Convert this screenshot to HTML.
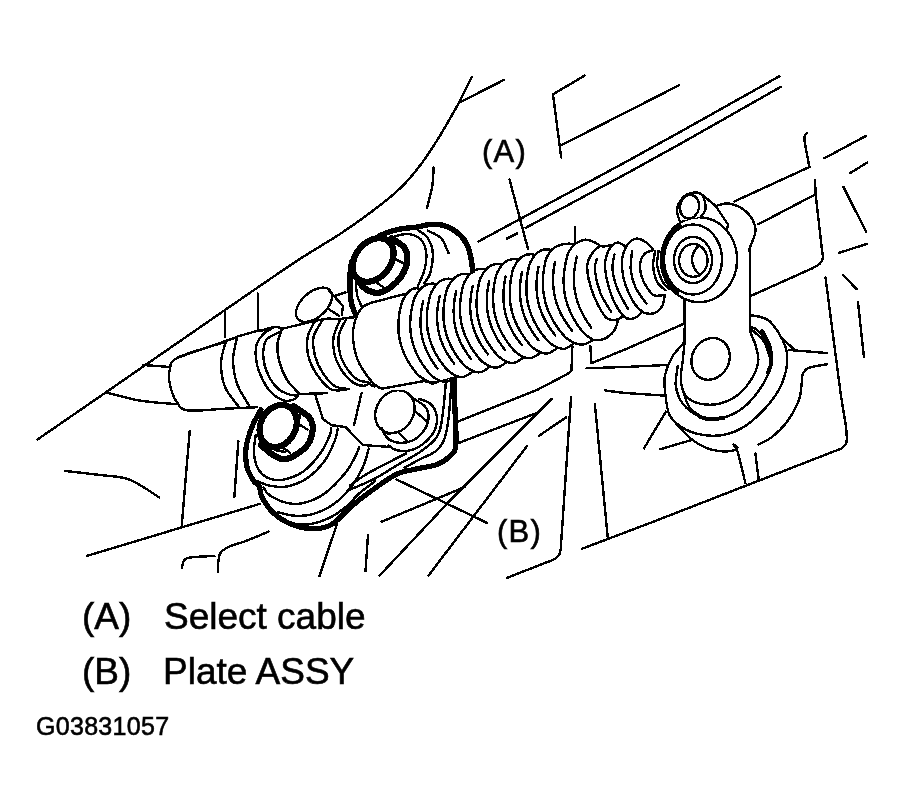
<!DOCTYPE html>
<html><head><meta charset="utf-8"><title>G03831057</title>
<style>
html,body{margin:0;padding:0;background:#fff;}
body{width:905px;height:811px;position:relative;overflow:hidden;font-family:"Liberation Sans",Arial,sans-serif;color:#000;}
.t{position:absolute;white-space:nowrap;line-height:1;-webkit-text-stroke:0.6px #000;will-change:transform;}
</style></head><body>
<svg width="905" height="811" viewBox="0 0 905 811" style="position:absolute;left:0;top:0" stroke="#000" stroke-linecap="round" stroke-linejoin="round" shape-rendering="crispEdges">
<path d="M37.3 439.6 C48.8 431.7 74.7 413.9 106 392.3 C137.3 370.7 193.3 331.8 225 310 C256.7 288.2 276.8 274.2 296 261.5 C315.2 248.8 326.8 242.8 340 234 C353.2 225.2 365 216.8 375.2 209 C385.4 201.2 393.3 195 401.1 187.4 C408.9 179.8 415.5 171.5 421.8 163.2 C428.1 154.8 434.1 145.1 439 137.3 C443.9 129.5 447.8 122.3 451.1 116.6 C454.4 110.8 455.4 109.4 458.9 102.8 C462.3 96.2 469.6 81.2 471.8 76.9" stroke-width="2.4" fill="none"/>
<path d="M458.9 102.8 L503.8 80" stroke-width="2.4" fill="none"/>
<path d="M433.6 167.4 C433.4 170.4 433.4 178.8 432.3 185.6 C431.2 192.4 427.8 204.3 426.9 208" stroke-width="2.4" fill="none"/>
<path d="M143 365 L170.4 367" stroke-width="2.4" fill="none"/>
<path d="M105.7 392.3 C111.3 393.7 127.5 398.5 139.3 400.5 C151.1 402.5 170.4 403.6 176.6 404.2" stroke-width="2.4" fill="none"/>
<path d="M224.9 311 L224.9 337" stroke-width="2.4" fill="none"/>
<path d="M257.7 293.5 L257.7 328.4" stroke-width="2.4" fill="none"/>
<path d="M65.5 471 C71.2 471.7 89.3 473.6 100 475 C110.7 476.4 119.6 475.9 129.5 479.6 C139.4 483.4 154.3 494.5 159.3 497.5" stroke-width="2.4" fill="none"/>
<path d="M189.7 431 L181.7 526.4" stroke-width="2.4" fill="none"/>
<path d="M238.4 441 L234.4 497" stroke-width="2.4" fill="none"/>
<path d="M86.7 556 L260 503.8" stroke-width="2.4" fill="none"/>
<path d="M181.7 568 C182.3 566.5 182.5 560.9 185.4 559 C188.3 557.1 194.2 557.2 199 556.7 C203.8 556.2 211.9 556.3 214.5 556.2" stroke-width="2.4" fill="none"/>
<path d="M217.8 571.6 C218.1 568.7 217.9 558.3 219.8 554.2 C221.7 550.1 224.8 548.9 229 546.8 C233.2 544.6 238.4 543.8 245 541.3 C251.6 538.8 264.6 533.3 268.5 531.7" stroke-width="2.4" fill="none"/>
<path d="M337 524 L319.5 576" stroke-width="2.4" fill="none"/>
<path d="M368 535 L365.5 571" stroke-width="2.4" fill="none"/>
<path d="M381.7 521.7 L464.8 487" stroke-width="2.4" fill="none"/>
<path d="M396.6 479.5 L487.2 523" stroke-width="2.4" fill="none"/>
<path d="M456 422.3 L537 390 L566.7 374.4" stroke-width="2.4" fill="none"/>
<path d="M566.7 374.4 C567.4 373.8 570.2 372.2 571 371 C571.8 369.8 571.4 371.2 571.6 367 C571.8 362.8 572.3 349.3 572.4 345.8" stroke-width="2.4" fill="none"/>
<path d="M457.3 443.5 L538.2 412.4" stroke-width="2.4" fill="none"/>
<path d="M551.9 398.7 L449.9 500.7 L379.7 575.4" stroke-width="2.4" fill="none"/>
<path d="M566 417.4 L538.7 436" stroke-width="2.4" fill="none"/>
<path d="M527 446 L428.7 575.3" stroke-width="2.4" fill="none"/>
<path d="M571 397.5 L560.8 548" stroke-width="2.4" fill="none"/>
<path d="M560.8 548 C560.6 549 560.6 552.1 559.5 554 C558.4 555.9 556.6 557.8 554.4 559.2 C552.1 560.6 547.4 562 546 562.6" stroke-width="2.4" fill="none"/>
<path d="M546 562.6 L507.1 577.8" stroke-width="2.4" fill="none"/>
<path d="M594.9 404.4 L607.8 538" stroke-width="2.4" fill="none"/>
<path d="M582.2 548.7 L650 523 L841.5 448.5" stroke-width="2.4" fill="none"/>
<path d="M841.5 448.5 C842.3 447.4 845.8 445.7 846.5 442.2 C847.2 438.7 847 436 846 427.3 C845 418.6 843.6 415 840.2 390 C836.8 365 828 296.1 825.5 277.3" stroke-width="2.4" fill="none"/>
<path d="M590.3 345.8 L591.5 363.2 L625 349.5 L683.3 324" stroke-width="2.4" fill="none"/>
<path d="M586.6 368.2 L625 367 L666 365" stroke-width="2.4" fill="none"/>
<path d="M605.2 390.5 L625 393 L663.4 395.5" stroke-width="2.4" fill="none"/>
<path d="M665.9 411.6 L644 448.4" stroke-width="2.4" fill="none"/>
<path d="M660.4 449.2 L692.2 439.8" stroke-width="2.4" fill="none"/>
<path d="M478.4 241.5 L625 162.4 L680 132 L779.5 76.2" stroke-width="2.4" fill="none"/>
<path d="M507 238.6 L517 233.6" stroke-width="2.4" fill="none"/>
<path d="M525.6 227.9 L625 174.4 L680 144 L780.7 86.9" stroke-width="2.4" fill="none"/>
<path d="M584.6 75.6 L553 94.3 L561.2 157.5" stroke-width="2.4" fill="none"/>
<path d="M560.7 145.5 L679.2 85.2" stroke-width="2.4" fill="none"/>
<path d="M574.9 227.4 L574.9 243" stroke-width="2.4" fill="none"/>
<path d="M509.5 179.4 L528 249" stroke-width="2.4" fill="none"/>
<path d="M806.9 133.4 C806.5 134 804.6 134.7 804.4 137 C804.2 139.3 804.8 142 805.6 147 C806.4 152 808.8 163.7 809.4 167" stroke-width="2.4" fill="none"/>
<path d="M809.4 167 L734.7 201.3" stroke-width="2.4" fill="none"/>
<path d="M815 180 L815.6 194.3 L822 250" stroke-width="2.4" fill="none"/>
<path d="M822 250 C822.1 251.3 823.1 255.8 822.8 258 C822.5 260.2 821.6 261.8 820 263.5 C818.4 265.2 814.2 267.2 813 268" stroke-width="2.4" fill="none"/>
<path d="M813 268 L751.7 295.5" stroke-width="2.4" fill="none"/>
<path d="M815.6 194.3 L758.4 224.2" stroke-width="2.4" fill="none"/>
<path d="M824.3 158.3 L866 135.9" stroke-width="2.4" fill="none"/>
<path d="M850 173.2 L867.3 162.5" stroke-width="2.4" fill="none"/>
<path d="M843.4 186.9 L866 231.6" stroke-width="2.4" fill="none"/>
<path d="M839.2 252.8 L866.6 244" stroke-width="2.4" fill="none"/>
<path d="M843 274.8 L856.6 289.2" stroke-width="2.4" fill="none"/>
<path d="M857.9 301.6 L864 357.4" stroke-width="2.4" fill="none"/>
<path d="M789.5 350 L826.8 353" stroke-width="2.4" fill="none"/>
<path d="M781 337 L794 349.5" stroke-width="2.4" fill="none"/>
<path d="M826.8 364.3 C823.9 364.9 813.4 366.2 809.4 367.6 C805.4 369.1 804.2 370.9 803 373 C801.8 375.1 802.7 375.6 802 380 C801.3 384.4 801.5 392.8 799 399.7 C796.5 406.6 791.8 415.2 787.2 421.5 C782.6 427.8 776.1 433.7 771.3 437.5 C766.5 441.3 760.5 443.2 758.3 444.4" stroke-width="2.4" fill="none"/>
<path d="M225.1 342 C217.2 344.6 187.1 352.9 177.9 357.5 C168.7 362 171.2 364.9 169.9 369.4 C168.6 373.9 168.8 378.9 169.9 384.3 C171 389.7 173.6 397.4 176.6 401.7 C179.6 406.1 179.7 409.3 187.8 410.4 C195.9 411.6 213.4 409.2 225 408.7 C236.6 408.2 251.8 407.4 257.2 407.2" stroke-width="2.4" fill="none"/>
<path d="M178 357.5 L237.3 337" stroke-width="2.4" fill="none"/>
<path d="M226.1 340.8 C225.3 344.3 221.4 354.3 221.1 361.9 C220.9 369.6 221.8 379.1 224.9 386.8 C228 394.5 237.3 404.4 239.8 408" stroke-width="2.4" fill="none"/>
<path d="M237.3 337.1 C236.6 340.8 233.1 351.6 233.1 359.5 C233.1 367.3 234.5 376.5 237.3 384.3 C240.1 392.2 247.7 403 249.8 406.7" stroke-width="2.4" fill="none"/>
<path d="M237.3 336.6 L259.7 330.1" stroke-width="2.4" fill="none"/>
<path d="M260.4 331.1 C262.6 330.4 270.1 327.4 273.7 327.1 C277.3 326.7 280.7 328.1 281.8 328.9 C282.9 329.6 280.6 331.3 280.3 331.8" stroke-width="2.4" fill="none"/>
<path d="M273.7 327.4 C271.9 328.5 266.2 331.2 263.3 334 C260.5 336.9 257.9 340.4 256.7 344.4 C255.4 348.3 255.5 353.3 255.9 357.7 C256.3 362.1 256.7 365.6 258.9 371 C261.1 376.5 265 385.3 269.2 390.3 C273.4 395.2 279.8 399.1 284 400.6 C288.2 402.1 292.2 399.9 294.4 399.1 C296.6 398.4 296.9 396.7 297.4 396.2" stroke-width="2.4" fill="none"/>
<path d="M280.3 331.8 C278 333.2 269.1 335.9 266.3 340 C263.4 344 263.1 350.6 263.3 356.2 C263.6 361.9 265.3 368.6 267.8 374 C270.2 379.4 274.4 385.3 278.1 388.8 C281.8 392.2 286.7 393.6 290 394.7 C293.2 395.8 296.1 395.3 297.4 395.4" stroke-width="2.4" fill="none"/>
<path d="M281.8 329.6 C281.1 332.1 277.7 339 277.4 344.4 C277 349.8 278 356.2 279.6 362.1 C281.2 368.1 283.8 374.7 287 379.9 C290.2 385.1 296.9 391 298.8 393.2" stroke-width="2.4" fill="none"/>
<path d="M281.8 328.9 L315.1 320.7" stroke-width="2.4" fill="none"/>
<path d="M298.8 394 L326.9 393.2" stroke-width="2.4" fill="none"/>
<path d="M315.1 320.7 C313.9 323.4 308.8 331.1 307.7 337 C306.6 342.9 307 350.1 308.4 356.2 C309.9 362.4 313 368.6 316.6 374 C320.2 379.4 325.7 386.1 329.9 388.8 C334.1 391.5 339.8 390 341.7 390.3" stroke-width="2.4" fill="none"/>
<path d="M322.5 320 C321 322.8 314.9 331 313.6 337 C312.4 343 313.6 350.3 315.1 356.2 C316.6 362.1 319.3 367.6 322.5 372.5 C325.7 377.4 330.4 383.1 334.3 385.8 C338.3 388.5 344.2 388.3 346.2 388.8" stroke-width="2.4" fill="none"/>
<path d="M315.1 320.7 L328.4 318.5 L338.8 319.2" stroke-width="2.4" fill="none"/>
<path d="M341.7 390.3 L349.1 388.8" stroke-width="2.4" fill="none"/>
<path d="M340.3 319.2 C339.2 322.2 334.5 330.8 333.6 337 C332.7 343.2 333.5 350.3 335.1 356.2 C336.7 362.1 340.1 368.1 343.2 372.5 C346.3 376.9 350.1 380.6 353.6 382.9 C357 385.1 361.2 385.8 363.9 385.8 C366.7 385.8 369 383.4 370 382.9" stroke-width="2.4" fill="none"/>
<path d="M346.9 317.8 C345.6 320.7 339.9 329.3 338.8 335.5 C337.7 341.7 338.8 349.1 340.3 354.7 C341.7 360.4 344.7 365.4 347.7 369.5 C350.6 373.7 354.6 377.8 358 379.9 C361.5 382 366.7 381.8 368.4 382.1" stroke-width="2.4" fill="none"/>
<path d="M338.8 319.2 L346.9 317.8 L353.6 317.5" stroke-width="2.4" fill="none"/>
<ellipse cx="314" cy="304.8" rx="21.5" ry="12.5" transform="rotate(-42 314 304.8)" stroke-width="2.4" fill="none"/>
<path d="M329.4 291 L343 306" stroke-width="2.4" fill="none"/>
<path d="M334.3 296 L345.5 292.3" stroke-width="2.4" fill="none"/>
<path d="M329.4 309.7 L339.3 315.9" stroke-width="2.4" fill="none"/>
<path d="M343 306 L341.8 315.2" stroke-width="2.4" fill="none"/>
<path d="M356.5 316 C355.7 314.1 352.9 309.2 351.8 304.8 C350.7 300.4 350.3 294.9 350 289.9 C349.7 284.9 349.8 279.6 350 275 C350.2 270.4 351.2 264.2 351.5 262" stroke-width="5.4" fill="none"/>
<path d="M379.8 235.5 C382.3 234.6 390.3 231.4 395 230.2 C399.7 228.9 404.2 228.5 408 228 C411.8 227.5 414.6 227.5 417.9 227 C421.2 226.5 423.7 225.1 427.8 224.8 C431.9 224.5 437.9 224 442.7 225.2 C447.5 226.4 452.6 228.8 456.6 231.9 C460.6 235 464.1 239 466.6 243.8 C469.1 248.6 470.5 255.9 471.5 260.7 C472.5 265.5 472.3 268.6 472.5 272.7 C472.7 276.8 472.6 282.9 472.6 285" stroke-width="5.4" fill="none"/>
<path d="M391.4 237.3 C394.1 236.8 402.9 233.6 407.9 234 C412.9 234.4 418.1 236.6 421.2 239.8 C424.2 243 425.6 248.1 426.2 253.1 C426.8 258.1 425.9 264.2 424.5 269.7 C423.1 275.2 419 283.4 417.9 286.2" stroke-width="2.4" fill="none"/>
<path d="M417.9 229.9 C419.5 231.3 425.3 234.3 427.8 238.2 C430.3 242.1 432.4 247.3 432.8 253.1 C433.2 258.9 431.7 268 430.3 273 C428.9 278 425.5 281.2 424.5 282.9" stroke-width="2.4" fill="none"/>
<path d="M427.8 230.7 C430 231.9 437.7 234.5 441.1 238.2 C444.6 241.9 447.3 250.6 448.5 253.1" stroke-width="2.4" fill="none"/>
<path d="M355.7 282.9 C356 285.1 356.4 292.3 357.4 296.2 C358.4 300.1 360.8 304.5 361.5 306.1" stroke-width="2.4" fill="none"/>
<ellipse cx="373.1" cy="260" rx="24.3" ry="17.6" transform="rotate(-51 373.1 260)" stroke-width="6.3" fill="none"/>
<path d="M391.4 238.2 C393.6 239.8 402 244.2 404.6 248.1 C407.2 252 407.7 256.7 407.1 261.4 C406.6 266.1 404.2 271.9 401.3 276.3 C398.4 280.7 393.6 285.1 389.7 287.9 C385.8 290.7 382 292.6 378.1 292.9 C374.2 293.2 369.8 291.5 366.5 289.6 C363.2 287.7 359.6 282.7 358.2 281.3" stroke-width="6.3" fill="none"/>
<path d="M393 258.1 L403 263" stroke-width="2.4" fill="none"/>
<path d="M374.8 281.3 L383.1 287.1" stroke-width="2.4" fill="none"/>
<path d="M454.2 376.4 C454.3 382 454.7 398.5 455 410 C455.3 421.5 456.7 437.5 455.8 445.3 C454.9 453.1 452.6 453.4 449.4 456.6 C446.2 459.8 442.5 462.5 436.6 464.6 C430.7 466.7 420.8 467.8 414.1 469.4 C407.4 471 403 471.1 396.5 474.2 C390 477.3 382.4 483 375 488.2 C367.6 493.4 359.6 499.4 352.4 505.5 C345.2 511.6 338.3 520.6 331.7 524.5 C325.1 528.4 319.3 528.8 312.7 528.8 C306.1 528.8 298.3 527 292 524.5 C285.7 522 279.6 518.4 274.7 514.1 C269.8 509.8 265.2 503.2 262.6 498.6 C260 494 260.6 489.4 259.2 486.5 C257.8 483.6 256 484.5 254 481.3 C252 478.1 248.4 473.2 247.1 467.5 C245.8 461.8 245.3 453.7 246.2 446.8 C247.1 439.9 249.9 432.2 252.3 426 C254.8 419.8 259.5 412.4 260.9 409.7" stroke-width="5.2" fill="none"/>
<path d="M446.2 378.8 C445.5 385.4 443.8 408.4 442.2 418.1 C440.6 427.9 440.2 431.7 436.6 437.3 C433 442.9 426.9 447.1 420.5 451.7 C414.1 456.2 405.9 460.1 398.1 464.6 C390.4 469.2 382.5 474.6 374 479 C365.5 483.4 351.7 488.8 347.2 490.8" stroke-width="2.4" fill="none"/>
<path d="M451.8 378 C451.3 384.7 449.9 407.7 448.6 418.1 C447.3 428.5 446.1 434.9 443.8 440.5 C441.5 446.1 439.1 448.5 435 451.7 C430.9 454.9 424 457.1 418.9 459.8 C413.8 462.5 406.9 466.5 404.5 467.8" stroke-width="2.4" fill="none"/>
<path d="M350 485.4 C353.2 483.3 359.8 477.9 369.2 472.6 C378.6 467.3 400 456.6 406.1 453.4" stroke-width="2.4" fill="none"/>
<path d="M370.8 385.2 L378.9 387.6 L444.6 379.6 L452.6 376.4" stroke-width="2.4" fill="none"/>
<path d="M315.3 395 L323 419.2 L331.7 425.2 L345.5 427 L362.7 445 L390 447" stroke-width="2.4" fill="none"/>
<path d="M361.5 393.2 L354.1 425.2" stroke-width="2.4" fill="none"/>
<path d="M255.7 434.7 C255.4 437.6 253.7 446.5 254 452 C254.3 457.5 255.1 463.2 257.4 467.5 C259.7 471.8 263.5 475.9 267.8 477.9 C272.1 479.9 277.3 480.8 283.3 479.6 C289.3 478.5 297.7 475.6 304 471 C310.3 466.4 317 458.1 321.3 452 C325.6 445.9 328.4 438.7 330 434.7 C331.6 430.7 330.7 428.9 330.8 427.8" stroke-width="2.4" fill="none"/>
<path d="M257.4 481.3 C259.4 482 264.6 484.7 269.5 485.6 C274.4 486.5 280.5 487.8 286.8 486.5 C293.1 485.2 301.2 482.2 307.5 477.9 C313.8 473.6 320.2 466.9 324.8 460.6 C329.4 454.3 333 445.2 335.1 439.9 C337.2 434.6 337.3 430.6 337.7 428.7" stroke-width="2.4" fill="none"/>
<path d="M263.5 487.4 C264.5 488.7 265.6 492.5 269.5 495.1 C273.4 497.7 281.1 501.6 286.8 502.9 C292.6 504.2 297.7 504.5 304 502.9 C310.3 501.3 317.9 498.4 324.8 493.4 C331.7 488.4 340.3 479 345.5 472.7 C350.7 466.4 353.5 459.7 355.8 455.4 C358.1 451.1 358.7 448.2 359.3 446.8" stroke-width="2.4" fill="none"/>
<path d="M278.2 512.4 C281.1 513 289.6 515.5 295.4 515.8 C301.1 516.1 306.6 515.8 312.7 514.1 C318.8 512.4 325.7 509.5 331.7 505.5 C337.7 501.5 343.7 496.2 348.9 489.9 C354.1 483.6 359.4 474.4 362.7 467.5 C366 460.6 367.8 451.7 368.8 448.5" stroke-width="2.4" fill="none"/>
<path d="M288.5 522.7 C291.7 523 300.9 525.2 307.5 524.5 C314.1 523.8 321.9 521.3 328.2 518.4 C334.5 515.5 340.3 511.4 345.5 507.2 C350.7 503 354.4 497.7 359.3 493.4 C364.2 489.1 372.4 483.3 375 481.3" stroke-width="2.4" fill="none"/>
<ellipse cx="278.2" cy="426" rx="22" ry="17.5" transform="rotate(-62 278.2 426)" stroke-width="6.3" fill="none"/>
<path d="M293.7 406.2 C296.3 408.1 306 413.5 309.2 417.4 C312.4 421.3 313 424.9 312.7 429.5 C312.4 434.1 310.9 440.4 307.5 445 C304.1 449.6 296.3 454.7 292 457 C287.7 459.3 285.1 459.4 281.6 458.9 C278.2 458.3 274.8 456 271.3 453.7 C267.9 451.4 262.6 446.4 260.9 445" stroke-width="6.3" fill="none"/>
<path d="M299.7 414 L298.9 424.3 L307.5 429.5" stroke-width="2.4" fill="none"/>
<path d="M275.6 450.2 L285 452" stroke-width="2.4" fill="none"/>
<path d="M281.6 446.8 L290.2 452.8" stroke-width="2.4" fill="none"/>
<ellipse cx="394.9" cy="411.7" rx="22.5" ry="18.5" transform="rotate(-58 394.9 411.7)" stroke-width="2.4" fill="none"/>
<path d="M409 394.5 C409.9 395.2 411.4 396.8 414.1 398.9 C416.8 401 422.9 403.7 425.3 406.9 C427.7 410.1 428.9 414.1 428.6 418.1 C428.3 422.1 426.4 427.2 423.7 430.9 C421 434.6 416.5 438.5 412.5 440.5 C408.5 442.5 403.6 443 399.7 442.9 C395.8 442.8 391.8 441.2 389.3 439.7 C386.8 438.2 385.7 436.1 384.5 434.1 C383.3 432.2 382.4 429 382 428" stroke-width="2.4" fill="none"/>
<path d="M418.9 398.9 C420.8 399.7 427.2 401 430.2 403.7 C433.1 406.4 435.8 410.6 436.6 414.9 C437.4 419.2 436.9 424.8 435 429.3 C433.1 433.8 429.3 438.6 425.3 442.1 C421.3 445.6 415.7 448.9 410.9 450.2 C406.1 451.5 400.2 451 396.5 450.2 C392.8 449.4 389.8 446.1 388.5 445.3" stroke-width="2.4" fill="none"/>
<path d="M415.7 411.7 L426.9 421.3" stroke-width="2.4" fill="none"/>
<path d="M398.1 431.7 L407.7 442.1" stroke-width="2.4" fill="none"/>
<path d="M387.7 434.1 L398.1 431.7" stroke-width="2.4" fill="none"/>
<path d="M400 386.8 L441 379.4" stroke-width="2.4" fill="none"/>
<path d="M372 302.6 C364.7 304.8 366 304.4 363.5 306.5 C361 308.6 358.8 310.9 357 315.5 C355.2 320.1 352.9 326.6 353 334 C353.1 341.4 354.4 351.8 357.6 359.8 C360.8 367.8 368 377.2 372 382 C376 386.8 372.6 388.9 381.7 388.7 C390.8 388.5 422.3 396.5 426.6 380.6 C430.9 364.7 416.5 306.3 407.4 293.3 C398.3 280.3 379.3 300.4 372 302.6 Z" stroke="none" fill="#fff"/>
<path d="M372 302.6 C370.6 303.2 366 304.4 363.5 306.5 C361 308.6 358.8 310.9 357 315.5 C355.2 320.1 352.9 326.6 353 334 C353.1 341.4 354.4 351.8 357.6 359.8 C360.8 367.8 368 377.2 372 382 C376 386.8 380.1 387.6 381.7 388.7" stroke-width="2.4" fill="none"/>
<path d="M372 302.6 L407.4 293.3" stroke-width="2.4" fill="none"/>
<path d="M381.7 388.7 L426.6 380.6" stroke-width="2.4" fill="none"/>
<path d="M407.4 293.3 L402.5 300.9 L400.5 307.9 L399.2 314.7 L398.5 321.4 L398.4 328 L398.8 334.4 L399.9 340.7 L401.6 346.9 L403.9 352.9 L406.7 358.8 L410.1 364.6 L414.2 370.3 L418.9 375.8 L426.6 380.6 L439.4 380.6 L420.2 289.2 Z" stroke="none" fill="#fff"/>
<path d="M420.2 289.2 L414.9 297.1 L412.7 304.4 L411.2 311.5 L410.4 318.5 L410.2 325.4 L410.6 332.1 L411.7 338.7 L413.4 345.2 L415.7 351.5 L418.7 357.7 L422.2 363.8 L426.4 369.7 L431.4 375.5 L439.4 380.6 L456.3 375.9 L436.6 284.3 Z" stroke="none" fill="#fff"/>
<path d="M436.6 284.3 L431.3 292.3 L429.2 299.6 L427.8 306.7 L427 313.7 L426.8 320.6 L427.3 327.4 L428.4 334 L430.1 340.5 L432.5 346.8 L435.4 353 L439 359.1 L443.2 365 L448.2 370.8 L456.3 375.9 L473.2 371.2 L453 279.4 Z" stroke="none" fill="#fff"/>
<path d="M453 279.4 L447.8 287.4 L445.6 294.8 L444.3 301.9 L443.5 309 L443.4 315.9 L443.9 322.6 L445 329.3 L446.8 335.8 L449.2 342.1 L452.2 348.3 L455.8 354.4 L460.1 360.3 L465.1 366.1 L473.2 371.2 L490.1 366.5 L469.4 274.5 Z" stroke="none" fill="#fff"/>
<path d="M469.4 274.5 L464.2 282.6 L462.1 289.9 L460.8 297.1 L460.1 304.2 L460 311.1 L460.5 317.9 L461.7 324.6 L463.5 331.1 L465.9 337.4 L469 343.6 L472.6 349.7 L476.9 355.7 L482 361.4 L490.1 366.5 L507 361.8 L485.8 269.6 Z" stroke="none" fill="#fff"/>
<path d="M485.8 269.6 L480.7 277.7 L478.6 285.1 L477.3 292.4 L476.7 299.4 L476.6 306.4 L477.2 313.2 L478.4 319.8 L480.2 326.4 L482.7 332.7 L485.7 339 L489.4 345 L493.8 351 L498.8 356.7 L507 361.8 L523.9 357.1 L502.2 264.7 Z" stroke="none" fill="#fff"/>
<path d="M502.2 264.7 L497.1 272.9 L495.1 280.3 L493.8 287.6 L493.2 294.7 L493.2 301.6 L493.8 308.5 L495 315.1 L496.9 321.7 L499.4 328 L502.5 334.3 L506.2 340.4 L510.6 346.3 L515.7 352.1 L523.9 357.1 L540.8 352.4 L518.6 259.8 Z" stroke="none" fill="#fff"/>
<path d="M518.6 259.8 L513.6 268 L511.6 275.5 L510.4 282.8 L509.8 289.9 L509.8 296.9 L510.4 303.7 L511.7 310.4 L513.6 317 L516.1 323.3 L519.3 329.6 L523.1 335.7 L527.4 341.6 L532.6 347.4 L540.8 352.4 L557.7 347.7 L535 254.9 Z" stroke="none" fill="#fff"/>
<path d="M535 254.9 L530 263.1 L528.1 270.6 L526.9 278 L526.3 285.1 L526.4 292.1 L527.1 299 L528.4 305.7 L530.3 312.2 L532.9 318.6 L536.1 324.9 L539.9 331 L544.3 336.9 L549.5 342.7 L557.7 347.7 L574.6 343 L551.4 250 Z" stroke="none" fill="#fff"/>
<path d="M551.4 250 L546.4 258.3 L544.5 265.8 L543.4 273.2 L542.9 280.3 L543 287.4 L543.7 294.3 L545.1 301 L547 307.5 L549.6 313.9 L552.8 320.2 L556.7 326.3 L561.1 332.3 L566.3 338 L574.6 343 L593.3 339.9 L574.1 244.1 Z" stroke="none" fill="#fff"/>
<path d="M574.1 244.1 L568.6 252.3 L566.3 259.9 L564.8 267.3 L563.9 274.6 L563.6 281.8 L564 288.8 L565.1 295.7 L566.8 302.5 L569.1 309.2 L572.1 315.7 L575.7 322.1 L580 328.3 L585.1 334.4 L593.3 339.9 L606 337 L614 322 L606 260 L590 240 Z" stroke="none" fill="#fff"/>
<path d="M420.2 289.2 C419.6 289 418 288.2 416.7 288.2 C415.3 288.2 413.4 288.4 411.9 289.3 C410.3 290.1 409 291.4 407.4 293.3 C405.8 295.2 403.6 298.5 402.5 300.9 C401.3 303.4 401 305.6 400.5 307.9 C399.9 310.2 399.5 312.5 399.2 314.7 C398.8 317 398.6 319.2 398.5 321.4 C398.3 323.6 398.3 325.8 398.4 328 C398.4 330.1 398.6 332.3 398.8 334.4 C399.1 336.5 399.5 338.6 399.9 340.7 C400.4 342.8 400.9 344.8 401.6 346.9 C402.2 348.9 403 350.9 403.9 352.9 C404.7 354.9 405.7 356.9 406.7 358.8 C407.8 360.8 408.9 362.7 410.1 364.6 C411.4 366.5 412.7 368.4 414.2 370.3 C415.6 372.1 416.9 374 418.9 375.8 C421 377.5 424.4 379.3 426.6 380.6 C428.8 381.9 430.4 383.5 432.4 383.6 C434.3 383.7 437.4 381.8 438.4 381.4" stroke-width="2.4" fill="none"/>
<path d="M436.6 284.3 C435.8 284.2 433.8 283.5 432 283.6 C430.2 283.7 427.9 283.9 425.9 284.9 C424 285.8 422 287.2 420.2 289.2 C418.4 291.2 416.1 294.6 414.9 297.1 C413.6 299.7 413.3 302 412.7 304.4 C412.1 306.8 411.6 309.2 411.2 311.5 C410.9 313.9 410.6 316.2 410.4 318.5 C410.3 320.8 410.2 323.1 410.2 325.4 C410.3 327.6 410.4 329.9 410.6 332.1 C410.9 334.3 411.2 336.5 411.7 338.7 C412.2 340.9 412.7 343 413.4 345.2 C414.1 347.3 414.8 349.4 415.7 351.5 C416.6 353.6 417.6 355.6 418.7 357.7 C419.7 359.7 420.9 361.8 422.2 363.8 C423.5 365.8 424.9 367.7 426.4 369.7 C427.9 371.7 429.2 373.7 431.4 375.5 C433.5 377.3 436.8 379.6 439.4 380.6 C442 381.6 444.4 382.1 447 381.5 C449.6 380.9 453.6 377.8 454.9 377.1" stroke-width="2.4" fill="none"/>
<path d="M423.3 301 C423 302.2 422.1 305.9 421.7 308.4 C421.3 310.8 421 313.2 420.8 315.6 C420.6 318 420.5 320.4 420.5 322.7 C420.5 325.1 420.6 327.4 420.9 329.7 C421.1 332 421.5 334.3 422 336.5 C422.4 338.8 423 341 423.7 343.2 C424.4 345.4 425.3 347.6 426.2 349.8 C427.1 351.9 428.1 354.1 429.3 356.2 C430.4 358.3 431.7 360.4 433.1 362.5 C434.4 364.5 436.8 367.6 437.5 368.6" stroke-width="2.4" fill="none"/>
<path d="M453 279.4 C452.2 279.3 450.2 278.6 448.4 278.7 C446.6 278.8 444.3 279 442.3 280 C440.4 280.9 438.4 282.3 436.6 284.3 C434.8 286.3 432.6 289.7 431.3 292.3 C430.1 294.8 429.8 297.2 429.2 299.6 C428.6 302 428.1 304.4 427.8 306.7 C427.4 309.1 427.1 311.4 427 313.7 C426.8 316.1 426.8 318.4 426.8 320.6 C426.9 322.9 427 325.2 427.3 327.4 C427.5 329.6 427.9 331.8 428.4 334 C428.8 336.2 429.4 338.3 430.1 340.5 C430.8 342.6 431.6 344.7 432.5 346.8 C433.3 348.9 434.3 351 435.4 353 C436.5 355.1 437.7 357.1 439 359.1 C440.3 361.1 441.7 363.1 443.2 365 C444.8 367 446 369 448.2 370.8 C450.4 372.6 453.7 374.9 456.3 375.9 C458.9 376.9 461.3 377.4 463.9 376.8 C466.5 376.2 470.5 373.1 471.8 372.4" stroke-width="2.4" fill="none"/>
<path d="M439.8 296.1 C439.5 297.3 438.6 301.1 438.2 303.5 C437.8 306 437.5 308.4 437.3 310.8 C437.1 313.2 437 315.6 437.1 317.9 C437.1 320.3 437.3 322.6 437.5 324.9 C437.8 327.2 438.1 329.5 438.6 331.8 C439.1 334 439.7 336.3 440.4 338.5 C441.1 340.7 442 342.9 442.9 345 C443.8 347.2 444.9 349.3 446.1 351.5 C447.2 353.6 448.5 355.7 449.9 357.7 C451.2 359.8 453.6 362.8 454.3 363.9" stroke-width="2.4" fill="none"/>
<path d="M469.4 274.5 C468.6 274.4 466.6 273.7 464.8 273.8 C463 273.9 460.7 274.1 458.7 275.1 C456.8 276 454.8 277.3 453 279.4 C451.2 281.5 449 284.9 447.8 287.4 C446.6 290 446.2 292.3 445.6 294.8 C445.1 297.2 444.6 299.6 444.3 301.9 C443.9 304.3 443.7 306.7 443.5 309 C443.4 311.3 443.4 313.6 443.4 315.9 C443.5 318.2 443.6 320.4 443.9 322.6 C444.2 324.9 444.6 327.1 445 329.3 C445.5 331.5 446.1 333.6 446.8 335.8 C447.5 337.9 448.3 340 449.2 342.1 C450.1 344.2 451.1 346.3 452.2 348.3 C453.3 350.4 454.5 352.4 455.8 354.4 C457.1 356.4 458.5 358.4 460.1 360.3 C461.6 362.3 462.9 364.3 465.1 366.1 C467.3 367.9 470.6 370.2 473.2 371.2 C475.8 372.2 478.2 372.7 480.8 372.1 C483.4 371.5 487.4 368.4 488.7 367.7" stroke-width="2.4" fill="none"/>
<path d="M456.2 291.2 C456 292.4 455.1 296.2 454.7 298.7 C454.3 301.1 454 303.6 453.9 306 C453.7 308.4 453.6 310.8 453.7 313.1 C453.7 315.5 453.9 317.8 454.1 320.2 C454.4 322.5 454.8 324.8 455.3 327 C455.8 329.3 456.4 331.5 457.1 333.7 C457.8 336 458.7 338.1 459.6 340.3 C460.6 342.5 461.7 344.6 462.8 346.7 C464 348.8 465.3 350.9 466.7 353 C468 355.1 470.4 358.1 471.2 359.1" stroke-width="2.4" fill="none"/>
<path d="M485.8 269.6 C485 269.5 483 268.8 481.2 268.9 C479.4 269 477.1 269.2 475.1 270.2 C473.2 271.1 471.2 272.4 469.4 274.5 C467.6 276.6 465.4 280 464.2 282.6 C463 285.1 462.7 287.5 462.1 289.9 C461.6 292.4 461.1 294.8 460.8 297.1 C460.5 299.5 460.2 301.9 460.1 304.2 C460 306.5 459.9 308.8 460 311.1 C460.1 313.4 460.3 315.7 460.5 317.9 C460.8 320.2 461.2 322.4 461.7 324.6 C462.2 326.8 462.8 328.9 463.5 331.1 C464.2 333.2 465 335.3 465.9 337.4 C466.8 339.5 467.9 341.6 469 343.6 C470.1 345.7 471.3 347.7 472.6 349.7 C474 351.7 475.4 353.7 476.9 355.7 C478.5 357.6 479.8 359.6 482 361.4 C484.2 363.2 487.5 365.5 490.1 366.5 C492.7 367.5 495.1 368 497.7 367.4 C500.3 366.8 504.3 363.7 505.6 363" stroke-width="2.4" fill="none"/>
<path d="M472.7 286.3 C472.4 287.6 471.6 291.3 471.2 293.8 C470.8 296.3 470.6 298.7 470.4 301.1 C470.2 303.6 470.2 306 470.2 308.3 C470.3 310.7 470.5 313.1 470.8 315.4 C471 317.7 471.4 320 471.9 322.3 C472.5 324.5 473.1 326.8 473.8 329 C474.6 331.2 475.4 333.4 476.4 335.6 C477.3 337.7 478.4 339.9 479.6 342 C480.8 344.1 482.1 346.2 483.5 348.3 C484.9 350.3 487.2 353.4 488 354.4" stroke-width="2.4" fill="none"/>
<path d="M502.2 264.7 C501.4 264.6 499.4 263.9 497.6 264 C495.8 264.1 493.5 264.3 491.5 265.3 C489.6 266.2 487.6 267.5 485.8 269.6 C484 271.7 481.9 275.1 480.7 277.7 C479.5 280.3 479.2 282.7 478.6 285.1 C478.1 287.6 477.6 290 477.3 292.4 C477 294.7 476.8 297.1 476.7 299.4 C476.5 301.8 476.5 304.1 476.6 306.4 C476.7 308.7 476.9 310.9 477.2 313.2 C477.5 315.4 477.9 317.7 478.4 319.8 C478.9 322 479.5 324.2 480.2 326.4 C480.9 328.5 481.7 330.6 482.7 332.7 C483.6 334.8 484.6 336.9 485.7 339 C486.9 341 488.1 343 489.4 345 C490.8 347 492.2 349 493.8 351 C495.3 352.9 496.6 354.9 498.8 356.7 C501 358.5 504.4 360.8 507 361.8 C509.6 362.8 512 363.3 514.6 362.7 C517.2 362.1 521.2 359 522.5 358.3" stroke-width="2.4" fill="none"/>
<path d="M489.1 281.5 C488.9 282.7 488.1 286.5 487.7 289 C487.3 291.4 487.1 293.9 486.9 296.3 C486.8 298.8 486.8 301.2 486.8 303.5 C486.9 305.9 487.1 308.3 487.4 310.6 C487.7 312.9 488.1 315.2 488.6 317.5 C489.1 319.8 489.8 322 490.5 324.2 C491.3 326.5 492.1 328.7 493.1 330.8 C494.1 333 495.2 335.1 496.4 337.3 C497.5 339.4 498.8 341.5 500.3 343.5 C501.7 345.6 504.1 348.7 504.8 349.7" stroke-width="2.4" fill="none"/>
<path d="M518.6 259.8 C517.8 259.7 515.8 259 514 259.1 C512.2 259.2 509.9 259.4 507.9 260.4 C506 261.3 504 262.6 502.2 264.7 C500.4 266.8 498.3 270.3 497.1 272.9 C495.9 275.5 495.6 277.8 495.1 280.3 C494.5 282.7 494.2 285.2 493.8 287.6 C493.5 289.9 493.3 292.3 493.2 294.7 C493.1 297 493.1 299.3 493.2 301.6 C493.3 303.9 493.5 306.2 493.8 308.5 C494.1 310.7 494.5 312.9 495 315.1 C495.6 317.3 496.2 319.5 496.9 321.7 C497.6 323.8 498.5 325.9 499.4 328 C500.3 330.1 501.4 332.2 502.5 334.3 C503.7 336.3 504.9 338.3 506.2 340.4 C507.6 342.4 509 344.3 510.6 346.3 C512.2 348.2 513.5 350.3 515.7 352.1 C517.9 353.9 521.3 356.1 523.9 357.1 C526.5 358.1 528.9 358.6 531.5 358 C534.1 357.4 538.1 354.3 539.4 353.6" stroke-width="2.4" fill="none"/>
<path d="M505.6 276.6 C505.4 277.8 504.6 281.6 504.2 284.1 C503.9 286.6 503.6 289.1 503.5 291.5 C503.4 293.9 503.3 296.3 503.4 298.7 C503.5 301.1 503.7 303.5 504 305.8 C504.3 308.1 504.7 310.4 505.3 312.7 C505.8 315 506.4 317.3 507.2 319.5 C508 321.7 508.8 323.9 509.8 326.1 C510.8 328.3 511.9 330.4 513.1 332.5 C514.3 334.7 515.6 336.7 517.1 338.8 C518.5 340.9 520.9 343.9 521.7 344.9" stroke-width="2.4" fill="none"/>
<path d="M535 254.9 C534.2 254.8 532.2 254.1 530.4 254.2 C528.6 254.3 526.3 254.5 524.3 255.5 C522.4 256.4 520.4 257.7 518.6 259.8 C516.8 261.9 514.7 265.4 513.6 268 C512.4 270.6 512.1 273 511.6 275.5 C511 277.9 510.7 280.4 510.4 282.8 C510.1 285.2 509.9 287.5 509.8 289.9 C509.7 292.2 509.7 294.6 509.8 296.9 C509.9 299.2 510.1 301.5 510.4 303.7 C510.8 306 511.2 308.2 511.7 310.4 C512.2 312.6 512.9 314.8 513.6 317 C514.4 319.1 515.2 321.2 516.1 323.3 C517.1 325.4 518.1 327.5 519.3 329.6 C520.4 331.6 521.7 333.7 523.1 335.7 C524.4 337.7 525.8 339.7 527.4 341.6 C529 343.6 530.4 345.6 532.6 347.4 C534.8 349.2 538.2 351.4 540.8 352.4 C543.4 353.4 545.8 353.9 548.4 353.3 C551 352.7 555 349.6 556.3 348.9" stroke-width="2.4" fill="none"/>
<path d="M522.1 271.7 C521.8 273 521.1 276.8 520.7 279.3 C520.4 281.8 520.1 284.2 520 286.7 C519.9 289.1 519.9 291.5 520 293.9 C520.1 296.3 520.3 298.7 520.6 301 C520.9 303.4 521.4 305.7 521.9 308 C522.5 310.2 523.1 312.5 523.9 314.7 C524.7 317 525.6 319.2 526.6 321.3 C527.6 323.5 528.7 325.7 529.9 327.8 C531.1 329.9 532.4 332 533.9 334.1 C535.3 336.2 537.7 339.2 538.5 340.2" stroke-width="2.4" fill="none"/>
<path d="M551.4 250 C550.6 249.9 548.6 249.2 546.8 249.3 C545 249.4 542.7 249.6 540.7 250.6 C538.8 251.5 536.8 252.8 535 254.9 C533.2 257 531.2 260.5 530 263.1 C528.8 265.8 528.6 268.2 528.1 270.6 C527.5 273.1 527.2 275.5 526.9 278 C526.6 280.4 526.4 282.8 526.3 285.1 C526.3 287.5 526.3 289.8 526.4 292.1 C526.5 294.4 526.7 296.7 527.1 299 C527.4 301.3 527.8 303.5 528.4 305.7 C528.9 307.9 529.6 310.1 530.3 312.2 C531.1 314.4 531.9 316.5 532.9 318.6 C533.8 320.8 534.9 322.8 536.1 324.9 C537.2 326.9 538.5 329 539.9 331 C541.2 333 542.7 335 544.3 336.9 C545.9 338.9 547.2 340.9 549.5 342.7 C551.7 344.5 555.1 346.7 557.7 347.7 C560.3 348.7 562.7 349.2 565.3 348.6 C567.9 348 571.9 344.9 573.2 344.2" stroke-width="2.4" fill="none"/>
<path d="M538.5 266.8 C538.3 268.1 537.5 271.9 537.2 274.4 C536.9 276.9 536.7 279.4 536.6 281.9 C536.5 284.3 536.5 286.7 536.6 289.1 C536.7 291.5 536.9 293.9 537.2 296.3 C537.6 298.6 538 300.9 538.6 303.2 C539.1 305.5 539.8 307.8 540.6 310 C541.4 312.2 542.3 314.4 543.3 316.6 C544.3 318.8 545.4 320.9 546.7 323.1 C547.9 325.2 549.2 327.3 550.7 329.4 C552.1 331.4 554.6 334.5 555.3 335.5" stroke-width="2.4" fill="none"/>
<path d="M574.1 244.1 C573 244 570 243.5 567.6 243.7 C565.1 243.9 562 244.3 559.3 245.3 C556.6 246.4 553.6 247.8 551.4 250 C549.2 252.2 547.6 255.7 546.4 258.3 C545.3 260.9 545 263.3 544.5 265.8 C544 268.3 543.7 270.7 543.4 273.2 C543.1 275.6 543 278 542.9 280.3 C542.8 282.7 542.9 285.1 543 287.4 C543.1 289.7 543.4 292 543.7 294.3 C544.1 296.5 544.5 298.8 545.1 301 C545.6 303.2 546.3 305.4 547 307.5 C547.8 309.7 548.7 311.8 549.6 313.9 C550.6 316.1 551.7 318.1 552.8 320.2 C554 322.3 555.3 324.3 556.7 326.3 C558 328.3 559.5 330.3 561.1 332.3 C562.7 334.2 564.1 336.2 566.3 338 C568.6 339.8 571.8 341.9 574.6 343 C577.4 344.1 580.1 344.9 583 344.6 C585.9 344.3 590.3 341.6 591.8 340.9" stroke-width="2.4" fill="none"/>
<path d="M555 261.9 C554.8 263.2 554 267.1 553.7 269.6 C553.4 272.1 553.2 274.6 553.1 277 C553 279.5 553 281.9 553.2 284.3 C553.3 286.7 553.5 289.1 553.9 291.5 C554.2 293.8 554.7 296.1 555.2 298.4 C555.8 300.7 556.5 303 557.3 305.2 C558.1 307.5 559 309.7 560 311.9 C561 314 562.2 316.2 563.4 318.3 C564.7 320.5 566 322.6 567.5 324.6 C568.9 326.7 571.4 329.7 572.2 330.8" stroke-width="2.4" fill="none"/>
<path d="M574.1 244.1 C573.2 245.5 569.9 249.7 568.6 252.3 C567.3 255 566.9 257.4 566.3 259.9 C565.6 262.4 565.2 264.9 564.8 267.3 C564.4 269.8 564.1 272.2 563.9 274.6 C563.7 277 563.6 279.4 563.6 281.8 C563.7 284.2 563.8 286.5 564 288.8 C564.3 291.1 564.6 293.5 565.1 295.7 C565.5 298 566.1 300.3 566.8 302.5 C567.4 304.7 568.2 307 569.1 309.2 C570 311.4 571 313.5 572.1 315.7 C573.2 317.8 574.4 320 575.7 322.1 C577 324.2 578.4 326.3 580 328.3 C581.6 330.4 582.8 332.5 585.1 334.4 C587.3 336.4 591.9 339 593.3 339.9" stroke-width="2.4" fill="none"/>
<path d="M576.9 256.5 C576.6 257.8 575.7 261.7 575.2 264.2 C574.8 266.7 574.5 269.3 574.2 271.8 C574 274.3 573.9 276.8 573.9 279.2 C573.9 281.7 574.1 284.1 574.3 286.5 C574.5 288.9 574.9 291.3 575.4 293.7 C575.8 296 576.4 298.4 577.1 300.7 C577.8 303 578.7 305.3 579.6 307.6 C580.6 309.8 581.6 312.1 582.8 314.3 C583.9 316.5 585.2 318.7 586.6 320.9 C588 323.1 590.4 326.3 591.1 327.4" stroke-width="2.4" fill="none"/>
<path d="M574.1 244.1 C575.9 243.4 581.4 239.9 585 239.7 C588.6 239.5 593.2 241.7 596 243 C598.8 244.3 600.7 246.8 601.6 247.5" stroke-width="2.4" fill="none"/>
<path d="M593.3 339.9 C595.1 339.8 600.5 340.5 604 339 C607.5 337.5 611.6 334.2 614 331 C616.4 327.8 617.5 321.8 618.2 320" stroke-width="2.4" fill="none"/>
<path d="M609.8 245.3 C608.9 245.5 606.1 246.2 604.3 246.4 C602.5 246.7 600.9 245.5 598.9 246.7 C596.9 247.9 594 250.5 592.1 253.5 C590.2 256.4 587.9 260 587.4 264.3 C586.8 268.6 587.5 273.6 588.7 279.3 C590 284.9 592 291.9 594.8 298.2 C597.7 304.6 602.5 313.6 605.7 317.2 C608.9 320.8 611.6 319.7 613.8 319.9 C616.1 320.2 617.7 319.3 619.3 318.6 C620.8 317.9 622.6 316.3 623.3 315.9" stroke="none" fill="#fff"/>
<path d="M609.8 245.3 C608.9 245.5 606.1 246.2 604.3 246.4 C602.5 246.7 600.9 245.5 598.9 246.7 C596.9 247.9 594 250.5 592.1 253.5 C590.2 256.4 587.9 260 587.4 264.3 C586.8 268.6 587.5 273.6 588.7 279.3 C590 284.9 592 291.9 594.8 298.2 C597.7 304.6 602.5 313.6 605.7 317.2 C608.9 320.8 611.6 319.7 613.8 319.9 C616.1 320.2 617.7 319.3 619.3 318.6 C620.8 317.9 622.6 316.3 623.3 315.9" stroke-width="2.4" fill="none"/>
<path d="M596.9 258.9 C596.5 260.7 594.3 264.1 594.8 269.8 C595.4 275.4 597.6 285.8 600.3 292.8 C603 299.8 609.3 308.6 611.1 311.8" stroke-width="2.4" fill="none"/>
<path d="M626 246.7 C624.7 246 620.5 242.5 617.9 242.6 C615.3 242.7 612.5 244.7 610.4 247.4 C608.4 250.1 606.5 255.2 605.7 258.9 C604.8 262.6 604.8 265.2 605.3 269.8 C605.7 274.3 606.8 280.4 608.4 286 C610.1 291.7 612.5 298.5 615.2 303.7 C617.9 308.9 621.7 314.7 624.7 317.2 C627.6 319.7 630.6 318.8 632.8 318.6 C635.1 318.4 636.7 317 638.2 315.9 C639.8 314.7 641.6 312.5 642.3 311.8" stroke="none" fill="#fff"/>
<path d="M626 246.7 C624.7 246 620.5 242.5 617.9 242.6 C615.3 242.7 612.5 244.7 610.4 247.4 C608.4 250.1 606.5 255.2 605.7 258.9 C604.8 262.6 604.8 265.2 605.3 269.8 C605.7 274.3 606.8 280.4 608.4 286 C610.1 291.7 612.5 298.5 615.2 303.7 C617.9 308.9 621.7 314.7 624.7 317.2 C627.6 319.7 630.6 318.8 632.8 318.6 C635.1 318.4 636.7 317 638.2 315.9 C639.8 314.7 641.6 312.5 642.3 311.8" stroke-width="2.4" fill="none"/>
<path d="M614.5 254.2 C614.2 256.8 611.9 263.8 612.5 269.8 C613 275.7 615.3 283.5 617.9 290.1 C620.5 296.7 626.4 305.9 628.1 309.1" stroke-width="2.4" fill="none"/>
<path d="M653.2 249.4 C652 248.3 649.1 244.4 646.4 242.6 C643.7 240.8 639.9 238.3 636.9 238.6 C633.8 238.8 630.4 241 628.1 244 C625.7 246.9 623.7 252.1 622.6 256.2 C621.6 260.3 621.5 263.7 622 268.4 C622.4 273.1 623.5 279.3 625.4 284.7 C627.2 290.1 630 296.4 632.8 301 C635.6 305.5 639.4 309.7 642.3 311.8 C645.2 314 648 313.8 650.4 313.8 C652.9 313.8 655.2 313.3 657.2 311.8 C659.3 310.3 661.4 307.7 662.7 305 C663.9 302.3 664.3 297.1 664.7 295.5" stroke="none" fill="#fff"/>
<path d="M653.2 249.4 C652 248.3 649.1 244.4 646.4 242.6 C643.7 240.8 639.9 238.3 636.9 238.6 C633.8 238.8 630.4 241 628.1 244 C625.7 246.9 623.7 252.1 622.6 256.2 C621.6 260.3 621.5 263.7 622 268.4 C622.4 273.1 623.5 279.3 625.4 284.7 C627.2 290.1 630 296.4 632.8 301 C635.6 305.5 639.4 309.7 642.3 311.8 C645.2 314 648 313.8 650.4 313.8 C652.9 313.8 655.2 313.3 657.2 311.8 C659.3 310.3 661.4 307.7 662.7 305 C663.9 302.3 664.3 297.1 664.7 295.5" stroke-width="2.4" fill="none"/>
<path d="M632.1 250.8 C631.9 253.9 630.2 263.7 630.8 269.8 C631.3 275.9 632.9 281.7 635.5 287.4 C638.1 293 644.6 301 646.4 303.7" stroke-width="2.4" fill="none"/>
<path d="M653.2 250.1 C651.8 250.7 647.2 251.3 645 253.5 C642.9 255.6 640.8 259.1 640.3 263 C639.7 266.8 640.4 272.2 641.6 276.5 C642.9 280.8 645.6 285.6 647.7 288.7 C649.9 291.9 651.7 294.5 654.5 295.5 C657.3 296.5 663 295 664.7 294.8" stroke="none" fill="#fff"/>
<path d="M653.2 250.1 C651.8 250.7 647.2 251.3 645 253.5 C642.9 255.6 640.8 259.1 640.3 263 C639.7 266.8 640.4 272.2 641.6 276.5 C642.9 280.8 645.6 285.6 647.7 288.7 C649.9 291.9 651.7 294.5 654.5 295.5 C657.3 296.5 663 295 664.7 294.8" stroke-width="2.4" fill="none"/>
<path d="M655.2 250.8 C654.9 253.3 652.9 260.5 653.2 265.7 C653.5 270.9 655.2 277.9 657.2 282 C659.2 286.1 664 288.8 665.4 290.1" stroke-width="2.4" fill="none"/>
<path d="M658.6 250.8 C658.4 253.3 656.5 260.5 657.2 265.7 C657.9 270.9 660.7 278.2 662.7 282 C664.7 285.8 668.3 287.6 669.4 288.7" stroke-width="2.4" fill="none"/>
<path d="M750.5 315.2 C753.6 316.1 763.4 315.8 769.2 320.9 C774.9 326 782.4 337.8 785.2 346 C788 354.2 787.9 361.5 786.2 369.8 C784.5 378.1 781 387.1 775.2 395.7 C769.4 404.3 759 415.2 751.4 421.5 C743.8 427.8 736.8 431.2 729.5 433.5 C722.2 435.8 714.9 436.2 707.6 435.5 C700.3 434.8 692 432.8 685.7 429.5 C679.4 426.2 673.3 422.2 669.8 415.6 C666.3 409 665.7 396.6 664.9 389.7 C664.1 382.8 664 379.8 665.2 374.4 C666.4 368.9 669.1 362.1 672.1 357 C675.2 351.8 681.5 345.6 683.3 343.3" stroke-width="2.4" fill="none"/>
<path d="M676 424 C678.6 426.6 686.4 435.3 691.7 439.4 C697 443.5 702.3 446.4 707.6 448.4 C712.9 450.4 719.2 451.1 723.5 451.4 C727.8 451.7 731.2 451.1 733.5 450.4 C735.8 449.7 737.5 448.4 737.5 447.4 C737.5 446.4 734.2 444.9 733.5 444.4" stroke-width="2.4" fill="none"/>
<path d="M733.5 444.4 C734.2 445.6 736.2 448 737.5 451.4 C738.8 454.8 739.7 459.7 741 465 C742.3 470.3 744.7 480.2 745.4 483.2" stroke-width="2.4" fill="none"/>
<path d="M755.4 453.4 L758.9 481.2" stroke-width="2.4" fill="none"/>
<path d="M677.8 365.9 C677.5 369.2 675 379.4 675.8 385.7 C676.6 392 678.8 398.5 682.8 403.6 C686.8 408.8 693.6 414.1 699.7 416.6 C705.8 419.1 712.3 420.1 719.6 418.6 C726.9 417.1 736.1 413.4 743.4 407.6 C750.7 401.8 758.6 391.4 763.3 383.8 C767.9 376.2 770.3 368.2 771.3 361.9 C772.3 355.6 771.7 351.3 769.3 346 C766.9 340.7 760.2 333.2 757 330 C753.8 326.8 751.2 327.5 750 327" stroke-width="2.4" fill="none"/>
<path d="M699.7 416.9 C701.4 417.3 706 419 710 419.2 C714 419.4 721.2 418.2 723.5 418" stroke-width="4" fill="none"/>
<path d="M762 331 C763.2 333.5 768 340.9 769.5 346 C771 351.1 771.5 357.4 771.3 361.9 C771 366.4 768.5 371.1 768 373" stroke-width="4" fill="none"/>
<path d="M682.8 389.7 C683.9 392.7 685.9 402.6 689.7 407.6 C693.5 412.6 703 417.6 705.6 419.6" stroke-width="2.4" fill="none"/>
<path d="M751.7 329.6 C753.8 331.7 761.1 337.1 764.2 342 C767.3 347 769.4 356.6 770.4 359.5" stroke-width="2.4" fill="none"/>
<path d="M684.6 300.5 C684.6 307.1 684.9 330.1 684.6 340 C684.3 349.9 683.4 353.3 682.8 359.9 C682.2 366.5 680.3 373.8 680.8 379.8 C681.3 385.8 682.6 391.7 685.7 395.7 C688.9 399.7 694.1 402.3 699.7 403.6 C705.4 404.9 713 405.2 719.6 403.6 C726.2 402 733.8 398.3 739.4 393.7 C745 389.1 750.2 381.4 753.4 375.8 C756.5 370.2 757.9 365 758.3 359.9 C758.6 354.8 756.8 349.6 755.5 345 C754.2 340.4 751.5 336.3 750.5 332 C749.5 327.7 749.9 332.1 749.8 319.2 C749.6 306.2 749.8 266.1 749.8 254.5 C749.7 242.9 748.3 253.6 749.3 249.5 C750.2 245.4 755.9 235.8 755.5 229.6 C755.1 223.4 751.1 216.5 746.8 212.2 C742.4 207.8 734.5 204.5 729.4 203.5 C724.2 202.4 718 205.6 715.7 206" stroke-width="2.4" fill="#fff"/>
<ellipse cx="710.6" cy="358.9" rx="18.5" ry="21.5" transform="rotate(28 710.6 358.9)" stroke-width="2.4" fill="none"/>
<path d="M715.7 206 L728.1 224.6 L726.9 229.6" stroke-width="2.4" fill="none"/>
<ellipse cx="699.1" cy="259.7" rx="38" ry="42.5" transform="rotate(0 699.1 259.7)" stroke-width="2.4" fill="#fff"/>
<path d="M676.6 292 L674.4 289.9 L672.3 287.7 L670.5 285.2 L668.8 282.6 L667.2 279.9 L665.9 277 L664.8 274.1 L663.9 271 L663.2 267.9 L662.8 264.7 L662.5 261.5 L662.5 258.3 L662.7 255.1 L663.2 251.9 L663.8 248.7 L664.7 245.7 L665.8 242.7 L667.1 239.8 L668.6 237.1 L670.3 234.5 L672.1 232 L674.1 229.7 L676.3 227.6 L678.6 225.7" stroke-width="5.6" fill="none"/>
<ellipse cx="693" cy="259.5" rx="29" ry="35" transform="rotate(0 693 259.5)" stroke-width="2.4" fill="none"/>
<ellipse cx="693" cy="260" rx="19" ry="23" transform="rotate(0 693 260)" stroke-width="2.4" fill="none"/>
<ellipse cx="693.3" cy="260.4" rx="14.2" ry="16.4" transform="rotate(0 693.3 260.4)" stroke-width="2.4" fill="none"/>
<path d="M698.3 245.8 C697.6 246.8 695.1 249.7 694 252 C693 254.3 692 256.9 692 259.5 C692 262 693 265 694 267.4 C695.1 269.8 697.6 272.6 698.3 273.6" stroke-width="2.4" fill="none"/>
<path d="M679.6 220.9 C679.2 219 676.7 213.4 677.1 209.7 C677.5 206 679.6 201.3 682.1 198.5 C684.6 195.7 688.7 193.4 692 192.8 C695.4 192.2 699.7 192.2 702 194.8 C704.3 197.4 705.9 204.8 705.7 208.5 C705.5 212.1 701.6 215.3 700.7 216.7" stroke-width="2.4" fill="#fff"/>
<path d="M703.2 195.5 L715.7 206" stroke-width="2.4" fill="none"/>
<ellipse cx="689.5" cy="206.7" rx="9.5" ry="12" transform="rotate(10 689.5 206.7)" stroke-width="2.4" fill="none"/>
</svg>
<div class="t" style="left:482px;top:136px;font-size:31px;letter-spacing:1.3px;">(A)</div>
<div class="t" style="left:497px;top:516.3px;font-size:31px;letter-spacing:1.3px;">(B)</div>
<div class="t" style="left:82px;top:598.2px;font-size:37px;">(A)</div>
<div class="t" style="left:164.3px;top:598.2px;font-size:37px;">Select cable</div>
<div class="t" style="left:82px;top:652.6px;font-size:37px;">(B)</div>
<div class="t" style="left:163.3px;top:652.6px;font-size:37px;">Plate ASSY</div>
<div class="t" style="left:36px;top:714px;font-size:25px;letter-spacing:0.3px;">G03831057</div>
</body></html>
